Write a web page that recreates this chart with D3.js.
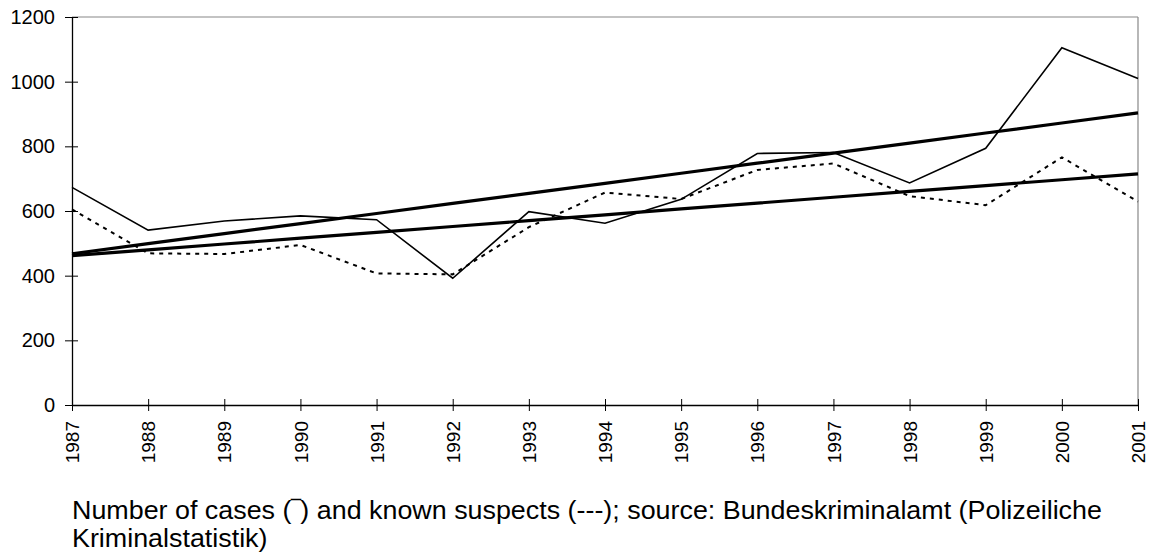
<!DOCTYPE html>
<html>
<head>
<meta charset="utf-8">
<script src="https://cdn.jsdelivr.net/npm/d3@7"></script>
<style>
  html, body { margin: 0; padding: 0; background: #fff; }
  svg { display: block; font-family: "Liberation Sans", Arial, sans-serif; }
</style>
</head>
<body>
<svg id="chart" width="1152" height="556"></svg>
<script>
const years = [1987, 1988, 1989, 1990, 1991, 1992, 1993, 1994, 1995, 1996, 1997, 1998, 1999, 2000, 2001];
const cases = [673, 541, 569, 585, 573, 392, 598, 562, 636, 778, 781, 687, 794, 1105, 1010];
const suspects = [605, 469, 467, 495, 407, 404, 550, 657, 637, 727, 747, 646, 618, 766, 629];
const yTicks = [0, 200, 400, 600, 800, 1000, 1200];
const captionLines = [
  "Number of cases (\u203E) and known suspects (---); source: Bundeskriminalamt (Polizeiliche",
  "Kriminalstatistik)"
];

const svg = d3.select("#chart");
const m = { left: 72, right: 1138, top: 17, bottom: 405 };

const x = d3.scalePoint().domain(years).range([m.left, m.right]);
const y = d3.scaleLinear().domain([0, 1200]).range([m.bottom, m.top]);

function linFit(vals) {
  const n = vals.length;
  const xs = d3.range(n);
  const mx = d3.mean(xs), my = d3.mean(vals);
  let sxy = 0, sxx = 0;
  xs.forEach((xi, i) => { sxy += (xi - mx) * (vals[i] - my); sxx += (xi - mx) ** 2; });
  const b = sxy / sxx, a = my - b * mx;
  return vals.map((_, i) => a + b * i);
}

// frame: top and right border gray
svg.append("line").attr("x1", m.left).attr("x2", m.right).attr("y1", m.top).attr("y2", m.top)
  .attr("stroke", "#888").attr("stroke-width", 1.2);
svg.append("line").attr("x1", m.right).attr("x2", m.right).attr("y1", m.top).attr("y2", m.bottom)
  .attr("stroke", "#888").attr("stroke-width", 1.2);

// y axis
const yAxis = d3.axisLeft(y).tickValues(yTicks).tickFormat(d3.format("d")).tickSize(0).tickPadding(17);
const gy = svg.append("g").attr("transform", `translate(${m.left},0)`).call(yAxis);
gy.select(".domain").attr("stroke", "#000").attr("stroke-width", 1.3);
gy.selectAll("text").attr("font-size", 20).attr("fill", "#000");
gy.selectAll(".tick").append("line").attr("x1", -7).attr("x2", 6).attr("stroke", "#000");

// x axis
const xAxis = d3.axisBottom(x).tickFormat(d3.format("d")).tickSize(0);
const gx = svg.append("g").attr("transform", `translate(0,${m.bottom})`).call(xAxis);
gx.select(".domain").attr("stroke", "#000").attr("stroke-width", 1.5);
gx.selectAll(".tick").append("line").attr("y1", -6).attr("y2", 6).attr("stroke", "#000");
gx.selectAll("text")
  .attr("font-size", 19).attr("fill", "#000")
  .attr("text-anchor", "end")
  .attr("transform", "rotate(-90)")
  .attr("x", -16).attr("y", 0).attr("dy", "0.35em");

const line = d3.line().x((d, i) => x(years[i])).y(d => y(d));

svg.append("path").datum(cases).attr("d", line)
  .attr("fill", "none").attr("stroke", "#000").attr("stroke-width", 1.6);
svg.append("path").datum(suspects).attr("d", line)
  .attr("fill", "none").attr("stroke", "#000").attr("stroke-width", 2)
  .attr("stroke-dasharray", "4,5");
svg.append("path").datum(linFit(cases)).attr("d", line)
  .attr("fill", "none").attr("stroke", "#000").attr("stroke-width", 3.2);
svg.append("path").datum(linFit(suspects)).attr("d", line)
  .attr("fill", "none").attr("stroke", "#000").attr("stroke-width", 3.2);

svg.append("g").attr("transform", "translate(72,0) scale(1.075,1)")
  .selectAll("text").data(captionLines).join("text")
  .attr("x", 0).attr("y", (d, i) => 519 + i * 28)
  .attr("font-size", 25).attr("fill", "#000")
  .text(d => d);
</script>
</body>
</html>
